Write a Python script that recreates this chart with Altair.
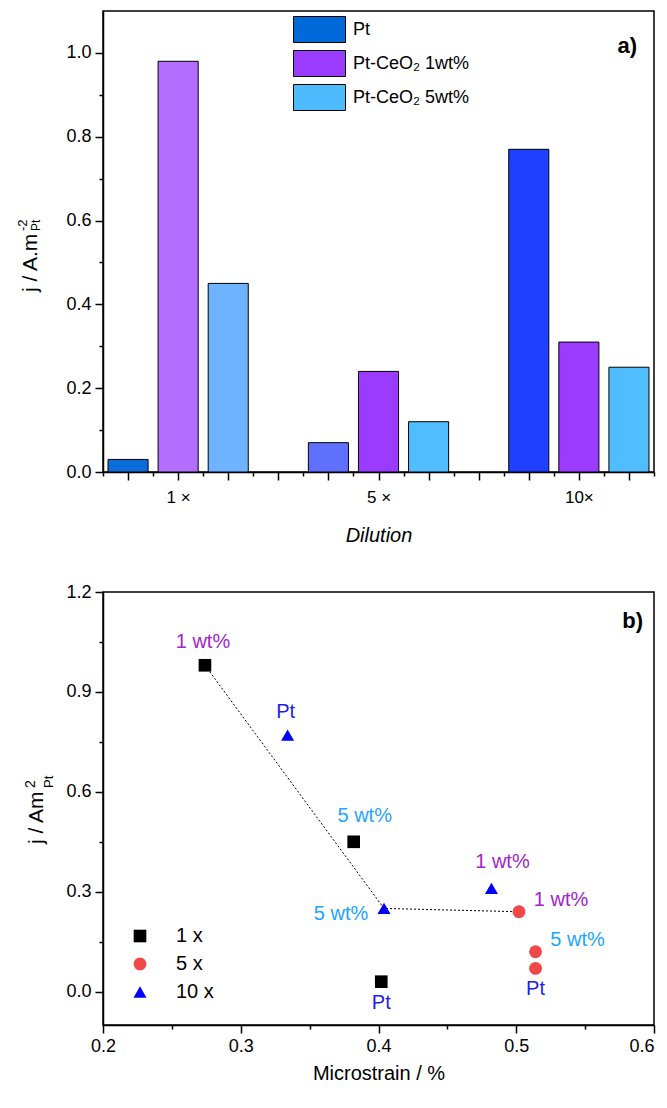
import altair as alt
import pandas as pd

FONT = "Liberation Sans"

# ---------------- panel a data ----------------
dilutions = ["1 ×", "5 ×", "10×"]
series = ["Pt", "Pt-CeO₂ 1wt%", "Pt-CeO₂ 5wt%"]
j_1x = [0.03, 0.98, 0.45]
j_5x = [0.07, 0.24, 0.12]
j_10x = [0.77, 0.31, 0.25]
colors_1x = ["#0A6BDB", "#B46EFF", "#6DB3FF"]
colors_5x = ["#5F70FF", "#9B3BFF", "#4FBDFF"]
colors_10x = ["#2040FF", "#9B3BFF", "#4FBDFF"]
legend_colors = ["#0069D9", "#9B3BFF", "#4FBBFF"]

# ---------------- panel b data ----------------
groups_b = ["1 x", "5 x", "10 x"]
samples_b = ["Pt", "1 wt%", "5 wt%"]
strain_1x = [0.402, 0.274, 0.382]
strain_5x = [0.514, 0.502, 0.514]
strain_10x = [0.334, 0.482, 0.404]
place_1x = ["below", "above", "above_r"]
place_5x = ["below", "right", "right"]
place_10x = ["above", "above_r", "left"]
sample_colors = ["#1C1CF2", "#A225C8", "#1EA5FF"]
marker_shapes = ["square", "circle", "triangle-up"]
marker_colors = ["black", "#F04848", "#0000FF"]
marker_sizes = [160, 170, 270]
trend_path = [("1 x", "1 wt%"), ("10 x", "5 wt%"), ("5 x", "1 wt%")]

# tick lists
ticks_xa = [round(i * 0.5, 2) for i in range(23)]          # 0 .. 11
ticks_ya = [round(i / 10, 2) for i in range(11)]           # 0 .. 1.0
ticks_xb = [round(0.2 + i * 0.05, 2) for i in range(9)]    # 0.2 .. 0.6
ticks_yb = [round(i * 0.15, 2) for i in range(9)]          # 0 .. 1.2

# label placement offsets (px)
placements = {"above": (-2, -23), "above_r": (11, -26), "below": (0, 21),
              "right": (42, -12), "left": (-43, 6)}

W = 551
HA = 461
HB = 433

# ---------- build tables ----------
rows_a = []
for g, (vals, cols) in enumerate([(j_1x, colors_1x), (j_5x, colors_5x), (j_10x, colors_10x)]):
    for s in range(3):
        pos = 4 * g + s + 0.5
        rows_a.append({"dilution": dilutions[g], "series": series[s], "j": vals[s],
                       "pos": pos, "x0": pos - 0.4, "x1": pos + 0.4, "barcolor": cols[s]})
df_a = pd.DataFrame(rows_a)

group_centers = {4 * g + 1.5: d for g, d in enumerate(dilutions)}
label_expr_xa = " : ".join(f"datum.value == {k} ? '{v}'" for k, v in group_centers.items()) + " : ''"

rows_b = []
for g, (xs, js, pl) in enumerate([(strain_1x, j_1x, place_1x), (strain_5x, j_5x, place_5x),
                                  (strain_10x, j_10x, place_10x)]):
    for s in range(3):
        rows_b.append({"group": groups_b[g], "sample": samples_b[s], "strain": xs[s], "j": js[s],
                       "place": pl[s], "lcolor": sample_colors[s]})
df_b = pd.DataFrame(rows_b)

line_rows = []
for i, (gname, sname) in enumerate(trend_path):
    r = df_b[(df_b.group == gname) & (df_b["sample"] == sname)].iloc[0]
    line_rows.append({"order": i, "strain": r.strain, "j": r.j})
df_line = pd.DataFrame(line_rows)


def minor_size(test):
    return {"condition": {"test": test, "value": 4}, "value": 8}


def txt(text, x, y, size, angle=None, weight="normal", align="left", baseline="alphabetic"):
    kw = dict(fontSize=size, font=FONT, fontWeight=weight, align=align, baseline=baseline, color="black")
    if angle is not None:
        kw["angle"] = angle
    return alt.Chart(pd.DataFrame({"t": [text]})).mark_text(**kw).encode(
        x=alt.value(x), y=alt.value(y), text="t:N")


# ---------- panel a ----------
xa = alt.Scale(domain=[0, 11], nice=False, zero=False)
ya = alt.Scale(domain=[0, 1.1], nice=False, zero=False)

bars = alt.Chart(df_a).mark_rect(stroke="black", strokeWidth=1).encode(
    x=alt.X("x0:Q", scale=xa, axis=alt.Axis(
        values=ticks_xa, labelExpr=label_expr_xa, tickSize=minor_size("datum.value % 1 == 0"),
        labelPadding=9, title="Dilution", titleFontStyle="italic", titlePadding=20,
        labelFontSize=17, labelFlush=False, labelOverlap=False)),
    x2="x1:Q",
    y=alt.Y("j:Q", scale=ya, axis=alt.Axis(
        values=ticks_ya,
        labelExpr="round(datum.value * 10) % 2 == 1 ? '' : format(datum.value, '.1f')",
        tickSize=minor_size("round(datum.value * 10) % 2 == 1"),
        labelPadding=4, title=None, labelFlush=False, labelOverlap=False)),
    y2=alt.datum(0),
    fill=alt.Fill("barcolor:N", scale=None),
)

legend_a = alt.Chart(df_a).mark_point(size=0, opacity=1, filled=True).encode(
    color=alt.Color("series:N", scale=alt.Scale(domain=series, range=legend_colors),
                    legend=alt.Legend(title=None, orient="none", legendX=203, legendY=5,
                                      symbolType="M-2,-1H2V1H-2Z", symbolSize=676,
                                      symbolStrokeColor="black", symbolStrokeWidth=1,
                                      symbolOpacity=1, labelFontSize=18, labelFont=FONT,
                                      labelColor="black", labelOffset=20, rowPadding=3, padding=0)),
)

a_label = txt("a)", W - 17, 35, 22, weight="bold", align="right", baseline="middle")
ya_main = txt("j / A.m", -66, 281, 21, angle=270)
ya_sup = txt("-2", -76, 220, 13, angle=270)
ya_sub = txt("Pt", -63, 220, 12, angle=270)

panel_a = alt.layer(bars, legend_a, a_label, ya_main, ya_sup, ya_sub).properties(width=W, height=HA)

# ---------- panel b ----------
xb = alt.Scale(domain=[0.2, 0.6], nice=False, zero=False)
yb = alt.Scale(domain=[-0.1, 1.2], nice=False, zero=False)

xb_axis = alt.Axis(
    values=ticks_xb,
    labelExpr="round(datum.value * 100) % 10 == 5 ? '' : format(datum.value, '.1f')",
    labelAlign={"condition": {"test": "datum.value >= 0.59", "value": "right"}, "value": "center"},
    tickSize=minor_size("round(datum.value * 100) % 10 == 5"),
    labelPadding=4, title="Microstrain / %", titlePadding=8, labelFlush=False, labelOverlap=False)
yb_axis = alt.Axis(
    values=ticks_yb,
    labelExpr="round(datum.value * 100) % 30 == 15 ? '' : format(datum.value, '.1f')",
    tickSize=minor_size("round(datum.value * 100) % 30 == 15"),
    labelPadding=4, title=None, labelFlush=False, labelOverlap=False)

xb_enc = alt.X("strain:Q", scale=xb, axis=xb_axis)
yb_enc = alt.Y("j:Q", scale=yb, axis=yb_axis)

trend = alt.Chart(df_line).mark_line(color="black", strokeDash=[2, 2], strokeWidth=1).encode(
    x=xb_enc, y=yb_enc, order="order:O",
)

legend_b = alt.Legend(title=None, orient="none", legendX=27, legendY=334, labelFontSize=20,
                      labelFont=FONT, labelColor="black", labelOffset=26, rowPadding=8, padding=0,
                      symbolOpacity=1)

points = alt.Chart(df_b).mark_point(filled=True, opacity=1).encode(
    x=xb_enc,
    y=yb_enc,
    shape=alt.Shape("group:N", scale=alt.Scale(domain=groups_b, range=marker_shapes), legend=legend_b),
    color=alt.Color("group:N", scale=alt.Scale(domain=groups_b, range=marker_colors), legend=legend_b),
    size=alt.Size("group:N", scale=alt.Scale(domain=groups_b, range=marker_sizes), legend=legend_b),
)

label_layers = []
for pname, (dx, dy) in placements.items():
    label_layers.append(
        alt.Chart(df_b).transform_filter(alt.datum.place == pname).mark_text(
            dx=dx, dy=dy, fontSize=20, font=FONT, align="center", baseline="middle").encode(
            x=xb_enc,
            y=yb_enc,
            text="sample:N",
            fill=alt.Fill("lcolor:N", scale=None),
        ))

b_label = txt("b)", W - 11, 29, 22, weight="bold", align="right", baseline="middle")
yb_main = txt("j / Am", -60, 252, 21, angle=270)
yb_sup = txt("2", -68, 196, 14, angle=270)
yb_sub = txt("Pt", -50, 196, 13, angle=270)

panel_b = alt.layer(trend, points, *label_layers, b_label, yb_main, yb_sup, yb_sub).properties(
    width=W, height=HB)

chart = alt.vconcat(panel_a, panel_b, spacing=36).resolve_scale(
    color="independent", shape="independent", size="independent", fill="independent"
).properties(
    padding={"left": 8, "top": 2, "right": 0, "bottom": 0}
).configure_view(stroke="black", strokeWidth=1.5).configure_axis(
    grid=False, domainColor="black", domainWidth=1.5, tickColor="black", tickWidth=1.5,
    labelColor="black", labelFont=FONT, labelFontSize=18, titleFont=FONT, titleColor="black",
    titleFontWeight="normal", titleFontSize=20)

chart.save("out.html", embed_options={"renderer": "svg", "actions": False})
